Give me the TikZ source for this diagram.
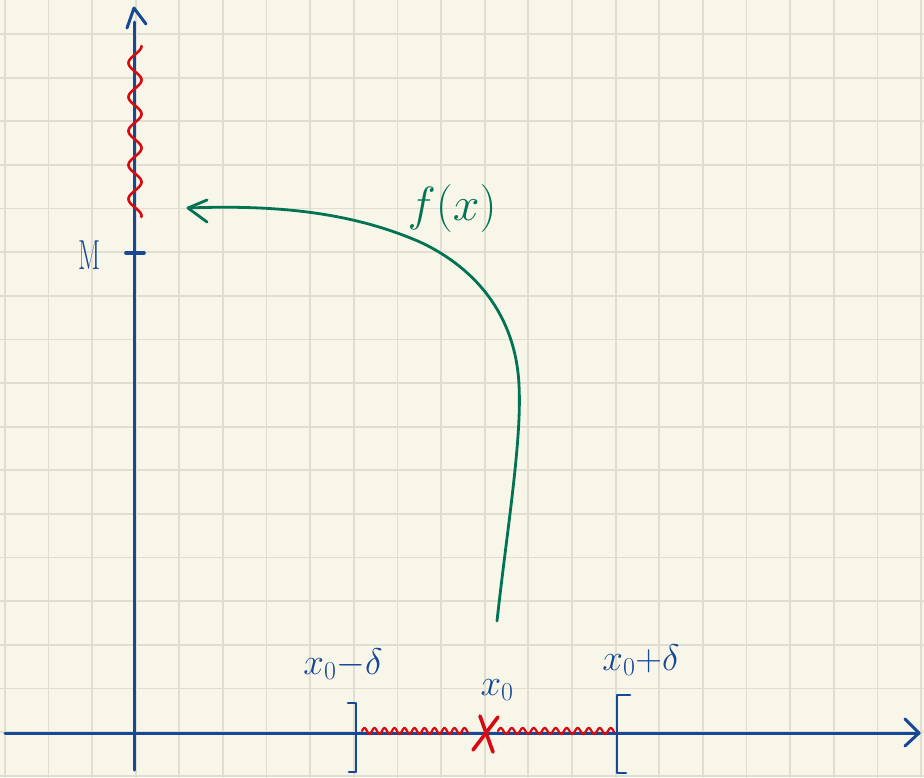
\RequirePackage{fix-cm}
\documentclass[tikz,border=0pt]{standalone}
\usepackage{graphicx}
\usetikzlibrary{calc}
\definecolor{bgc}{RGB}{248,245,233}
\definecolor{gridc}{RGB}{224,221,209}
\definecolor{axc}{RGB}{22,72,150}
\definecolor{redc}{RGB}{214,10,16}
\definecolor{grc}{RGB}{0,115,82}
\begin{document}
\begin{tikzpicture}[x=1pt,y=-1pt,line cap=round,line join=round,
  gridline/.style={gridc,line width=1.8pt},
  axis/.style={axc,line width=3pt},
  wig/.style={redc,line width=2.6pt},
  curve/.style={grc,line width=2.8pt},
  lab/.style={axc,inner sep=0pt,font=\fontsize{37}{41}\selectfont}]
\fill[bgc] (0,0) rectangle (924,777);
\useasboundingbox (0,0) rectangle (924,777);
% grid
\foreach \i in {0,...,21} \draw[gridline] ({4.8+43.63*\i},0) -- ({4.8+43.63*\i},777);
\foreach \j in {1,...,18} \draw[gridline] (0,{-9.6+43.63*\j}) -- (924,{-9.6+43.63*\j});
% axes
\coordinate (xs) at (5,733);
\coordinate (xe) at (919,733);
\coordinate (ys) at (134,770);
\coordinate (ye) at (134,8);
\draw[axis] (xs) -- (xe);
\draw[axis] (905,719) -- (xe) -- (905,746);
\draw[axis] (ys) -- (134,22);
\draw[axis] (127,28) -- (ye) -- (146,24);
% M tick
\draw[axc,line width=3.6pt] (126,253) -- (144,253);
\node[lab,font=\fontsize{42}{46}\selectfont] (M) at (90,255) {\scalebox{0.62}[1]{M}};
% red wiggle on y axis
\draw[wig] plot[domain=46:217,samples=240,smooth] ({135+6.5*sin((\x-46)*(360/34)+90)},\x);
% red wiggles on x axis
\draw[wig,line width=2.2pt] plot[domain=362:468,samples=240,smooth] (\x,{731-3*sin((\x-362)*36)});
\draw[wig,line width=2.2pt] plot[domain=498:614,samples=240,smooth] (\x,{731-3*sin((\x-498)*(360/11))});
% red cross
\draw[redc,line width=3.6pt] (480,716) -- (493,752);
\draw[redc,line width=3.6pt] (498,717) -- (473,750);
% brackets
\draw[axis,line width=2.6pt] (348,703) -- (356,703) -- (356,772) -- (349,772);
\draw[axis,line width=2.6pt] (630,695) -- (617,695) -- (617,773) -- (626,773);
% labels
\node[lab] (xl) at (343,664) {$x_0{-}\delta$};
\node[lab] (xr) at (641,660) {$x_0{+}\delta$};
\node[lab] (x0) at (497,690) {$x_0$};
% green map arrow
\coordinate (gs) at (497,621);
\coordinate (ge) at (188,208);
\draw[curve] (gs) .. controls (507,530) and (522,440) .. (519,385)
  .. controls (516,320) and (480,270) .. (420,242)
  .. controls (360,216) and (290,204) .. (ge);
\draw[curve] (207,200) -- (ge) -- (207,222);
\node[grc,inner sep=0pt,font=\fontsize{48}{52}\selectfont] (fx) at (452,208) {$f(x)$};
\end{tikzpicture}
\end{document}
